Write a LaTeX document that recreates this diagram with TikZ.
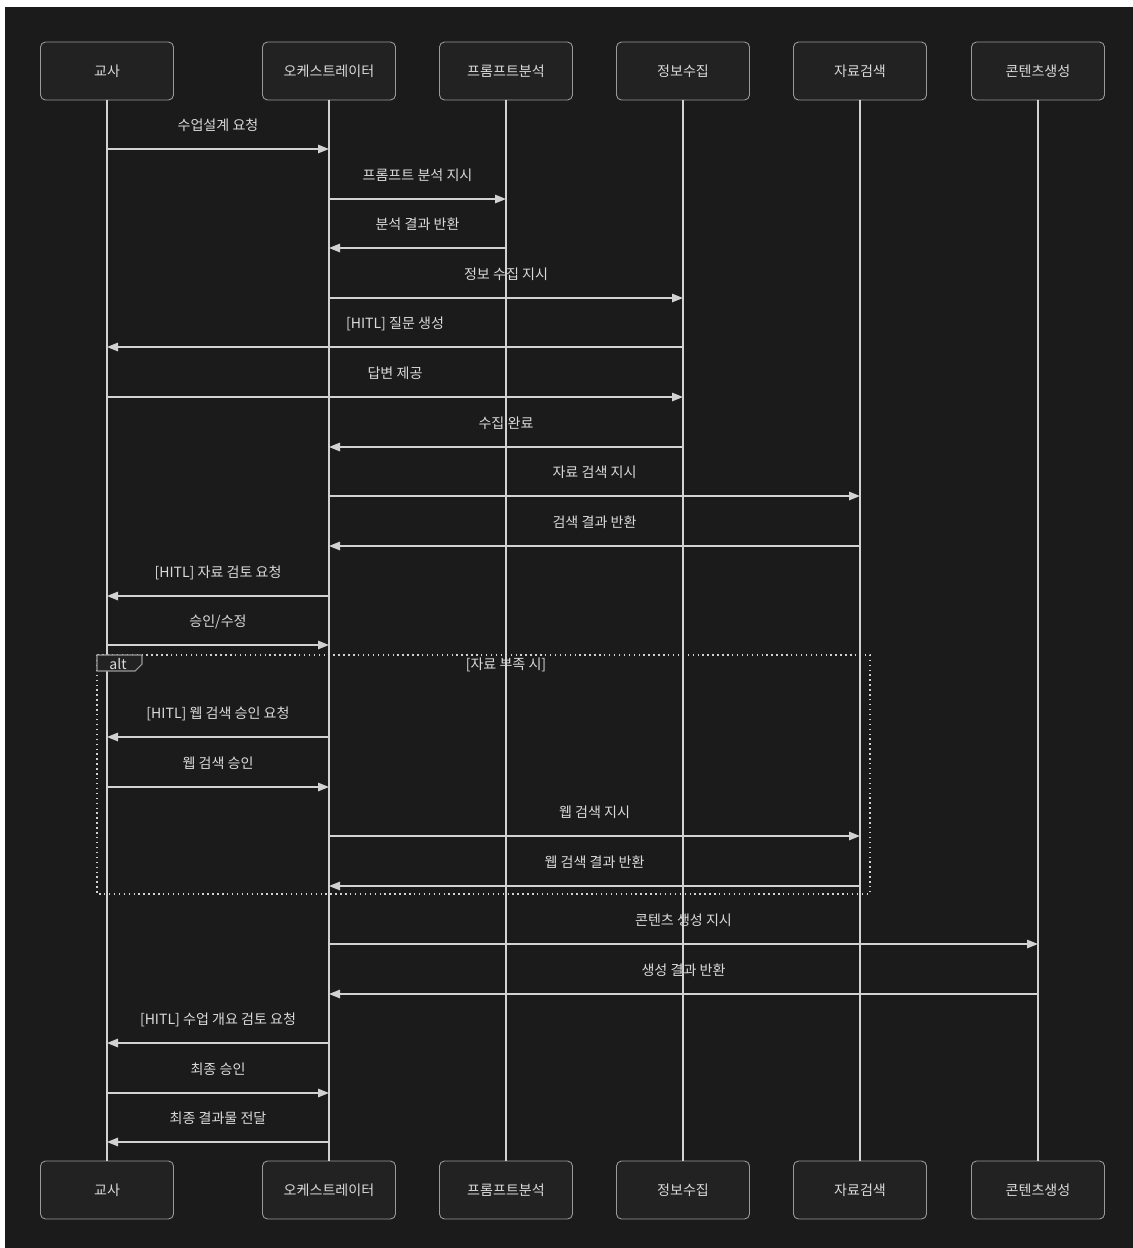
\documentclass[tikz,border=0pt]{standalone}
\usepackage{fontspec}
\setmainfont{Noto Sans CJK KR}
\usetikzlibrary{arrows.meta}

\definecolor{bgdark}{HTML}{1B1B1B}
\definecolor{boxfill}{HTML}{222222}
\definecolor{boxline}{HTML}{9A9A9A}
\definecolor{lineclr}{HTML}{D2D2D2}
\definecolor{txtclr}{HTML}{DADADA}

% message from lifeline #1 to lifeline #2 at height #3
\newcommand{\msg}[4]{\draw[msgarr] (#1 |- 0,#3) -- node[msglabel] {#4} (#2 |- 0,#3);}

\begin{document}
\begin{tikzpicture}[
  x=0.2mm, y=-0.2mm,
  every node/.style={font=\fontsize{8}{10}\selectfont, text=txtclr},
  actor/.style={draw=boxline, fill=boxfill, line width=0.5pt, rounded corners=1mm,
    minimum width=26.6mm, minimum height=11.6mm},
  life/.style={draw=lineclr, line width=0.8pt},
  msgarr/.style={draw=lineclr, line width=0.8pt, -{Triangle[length=2.2mm, width=1.7mm]}},
  msglabel/.style={midway, yshift=4.7mm},
  altline/.style={draw=lineclr, line width=0.8pt, dotted},
  alttab/.style={draw=boxline, fill=boxfill, line width=0.6pt}
]
  \useasboundingbox (0,0) rectangle (1133,1248);
  \fill[white] (0,0) rectangle (1133,1248);
  \fill[bgdark] (5,7) rectangle (1133,1248);

  % participants
  \node[actor] (t1) at (107,71) {교사};
  \node[actor] (t2) at (329,71) {오케스트레이터};
  \node[actor] (t3) at (506,71) {프롬프트분석};
  \node[actor] (t4) at (683,71) {정보수집};
  \node[actor] (t5) at (860,71) {자료검색};
  \node[actor] (t6) at (1038,71) {콘텐츠생성};

  \node[actor] (b1) at (107,1190) {교사};
  \node[actor] (b2) at (329,1190) {오케스트레이터};
  \node[actor] (b3) at (506,1190) {프롬프트분석};
  \node[actor] (b4) at (683,1190) {정보수집};
  \node[actor] (b5) at (860,1190) {자료검색};
  \node[actor] (b6) at (1038,1190) {콘텐츠생성};

  \foreach \i in {1,...,6}
    \draw[life] (t\i.south) -- (b\i.north);

  % messages
  \msg{t1}{t2}{149}{수업설계 요청}
  \msg{t2}{t3}{199}{프롬프트 분석 지시}
  \msg{t3}{t2}{248}{분석 결과 반환}
  \msg{t2}{t4}{298}{정보 수집 지시}
  \msg{t4}{t1}{347}{[HITL] 질문 생성}
  \msg{t1}{t4}{397}{답변 제공}
  \msg{t4}{t2}{447}{수집 완료}
  \msg{t2}{t5}{496}{자료 검색 지시}
  \msg{t5}{t2}{546}{검색 결과 반환}
  \msg{t2}{t1}{596}{[HITL] 자료 검토 요청}
  \msg{t1}{t2}{645}{승인/수정}

  % alt block
  \draw[altline] (97,655) rectangle (870,894);
  \draw[alttab] (97,655) -- (142,655) -- (142,664) -- (135,671) -- (97,671) -- cycle;
  \node (altlbl) at (118,664) {alt};
  \node (altcond) at (506,665) {[자료 부족 시]};

  \msg{t2}{t1}{737}{[HITL] 웹 검색 승인 요청}
  \msg{t1}{t2}{787}{웹 검색 승인}
  \msg{t2}{t5}{836}{웹 검색 지시}
  \msg{t5}{t2}{886}{웹 검색 결과 반환}

  \msg{t2}{t6}{944}{콘텐츠 생성 지시}
  \msg{t6}{t2}{994}{생성 결과 반환}
  \msg{t2}{t1}{1043}{[HITL] 수업 개요 검토 요청}
  \msg{t1}{t2}{1093}{최종 승인}
  \msg{t2}{t1}{1142}{최종 결과물 전달}
\end{tikzpicture}
\end{document}
